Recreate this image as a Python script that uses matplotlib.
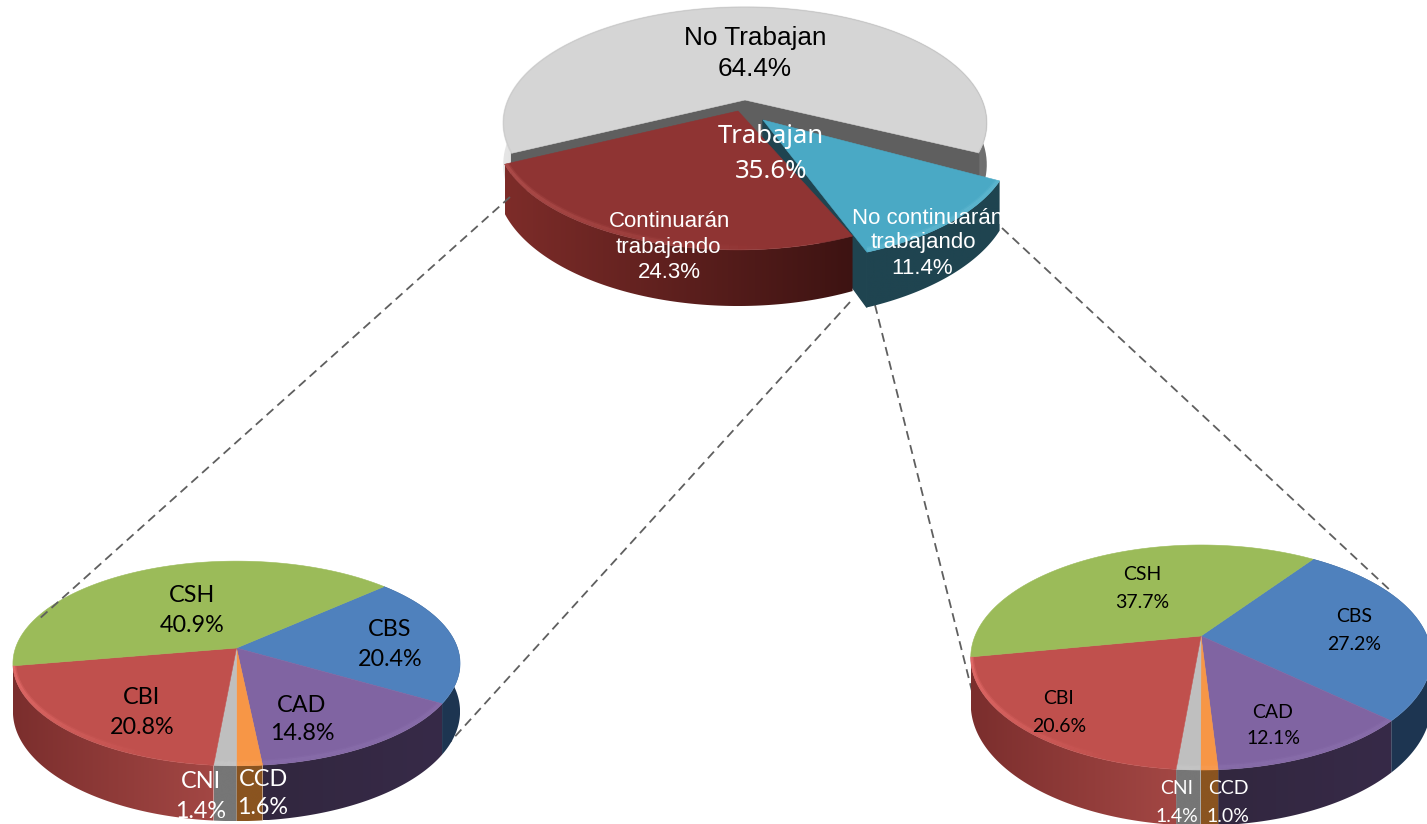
#!/usr/bin/python3
import numpy as np
import matplotlib
matplotlib.use("Agg")
import matplotlib.pyplot as plt
from matplotlib.colors import to_rgb
from matplotlib.patches import Polygon

# main pie, clockwise from the right edge of the grey slice
main_names = ["No Trabajan", "No continuarán\ntrabajando", "Continuarán\ntrabajando"]
main_values = [64.4, 11.4, 24.3]
main_total_label = "Trabajan"
main_total_value = 35.6

# small pies, clockwise from the CSH/CBS border
small_names = ["CBS", "CAD", "CCD", "CNI", "CBI", "CSH"]
left_values = [20.4, 14.8, 1.6, 1.4, 20.8, 40.9]
right_values = [27.2, 12.1, 1.0, 1.4, 20.6, 37.7]

small_tops = ["#4f81bd", "#8064a2", "#f79646", "#bfbfbf", "#c0504d", "#9bbb59"]
small_sides = [("#1e3652", "#1c3550"), ("#372a48", "#32273f"), ("#8a5420", "#8a5420"),
               ("#767676", "#767676"), ("#a34744", "#7b2e2d"), None]
small_lips = [None, "#9a80bd", "#ffb070", "#d8d8d8", "#ee7472", None]


def rim(t, A, B, k):
    # circle seen in perspective, back of the pie is further away
    u, v = np.cos(t), np.sin(t)
    w = 1 + k * v
    return A * u / w, -B * v / w, w


def draw_side(ax, cx, cy, a0, a1, A, B, k, D, c0, c1, z):
    t = np.radians(np.linspace(a0, a1, 120))
    x, y, w = rim(t, A, B, k)
    x, y = x + cx, y + cy
    d = D / w
    outline = np.c_[np.r_[x, x[::-1]], np.r_[y, (y + d)[::-1]]]
    patch = Polygon(outline, closed=True, fc="none", ec="none", transform=ax.transData)
    ax.add_patch(patch)
    c0, c1 = np.array(to_rgb(c0)), np.array(to_rgb(c1))
    f = np.linspace(0, 1, 256)[:, None]
    grad = (c0 * (1 - f) + c1 * f)[None, :, :]
    im = ax.imshow(grad, extent=(x.min(), x.max(), (y + d).max(), y.min()), aspect="auto",
                   interpolation="bilinear", zorder=z)
    im.set_clip_path(patch)


def draw_top(ax, cx, cy, a0, a1, A, B, k, color, z):
    t = np.radians(np.linspace(a0, a1, 120))
    x, y, _ = rim(t, A, B, k)
    return ax.fill(np.r_[cx, x + cx], np.r_[cy, y + cy], color=color, lw=0.4, zorder=z)[0]


def draw_lip(ax, cx, cy, a0, a1, A, B, k, color, z, clip, strength=0.8, fade=True):
    # soft light band just inside the front rim
    t = np.radians(np.linspace(a0, a1, 50))
    x, y, _ = rim(t, A, B, k)
    x, y = x + cx, y + cy - 2.5
    for i in range(len(t) - 1):
        alpha = strength * max(1 - 1.25 * i / len(t), 0) if fade else strength
        for lw, a in [(4.5, 0.35), (2.5, 0.65)]:
            ln = ax.plot(x[i:i + 2], y[i:i + 2], color=color, lw=lw, alpha=alpha * a,
                         solid_capstyle="butt", zorder=z)[0]
            ln.set_clip_path(clip)


def draw_small_pie(ax, cx, cy, A, B, k, D, values, start):
    edges = start - np.r_[0, np.cumsum(values)] / np.sum(values) * 360
    for i in range(len(values)):
        if small_sides[i]:
            draw_side(ax, cx, cy, edges[i], edges[i + 1], A, B, k, D, small_sides[i][1], small_sides[i][0], 5)
    tops = [draw_top(ax, cx, cy, edges[i], edges[i + 1], A, B, k, small_tops[i], 6) for i in range(len(values))]
    for i in range(len(values)):
        if small_lips[i]:
            is_cbi = small_names[i] == "CBI"
            draw_lip(ax, cx, cy, edges[i + 1], edges[i], A, B, k, small_lips[i], 7, tops[i],
                     strength=0.9 if is_cbi else 0.3, fade=is_cbi)


def label(ax, x, y, txt, color="black", size=16, font="Lato"):
    ax.text(x, y, txt, color=color, fontsize=size, family=font, ha="center", va="center", zorder=10)


fig = plt.figure(figsize=(14.27, 8.24), dpi=100)
ax = fig.add_axes([0, 0, 1, 1])
ax.set_xlim(0, 1427)
ax.set_ylim(824, 0)
ax.autoscale(False)
ax.axis("off")

# connector lines
for x0, y0, x1, y1, z in [(510, 197, 38, 620, 9), (850, 302, 450, 742, 2),
                          (875, 305, 975, 703, 2), (1002, 228, 1392, 592, 2)]:
    ax.plot([x0, x1], [y0, y1], color="#5f5f5f", lw=1.3, ls=(0, (5, 3)), zorder=z)

# main pie
A, B, k, D = 237, 111.4, 0.198, 45
fr = np.array(main_values) / np.sum(main_values) * 360
e0 = 205.9
e1 = e0 - fr[0]
e2 = e1 - fr[1]
e3 = e2 - fr[2]

# grey slice
gx, gy = 745, 100
draw_side(ax, gx, gy, e1, e0, A, B, k, 40, "#e6e6e6", "#6f6f6f", 3)
for a in (e0, e1):
    x, y, w = rim(np.radians(a), A, B, k)
    ax.fill([gx, gx + x, gx + x, gx], [gy, gy + y, gy + y + 40, gy + 40], color="#5f5f5f", zorder=3.5)
draw_top(ax, gx, gy, e1, e0, A, B, k, "#d5d5d5", 4)
t_back = np.radians(np.linspace(e1, e0, 150))
x_back, y_back, _ = rim(t_back, A, B, k)
ax.plot(x_back + gx, y_back + gy, color="#b8b8b8", lw=1.2, alpha=0.3, zorder=4.2)

# blue slice, pulled out
bx, by = 763, 120
blue_A, blue_B = A * 1.03, B * 1.03
b_hi, b_lo = e1 - 3, e2 - 3
x, y, w = rim(np.radians(b_lo), blue_A, blue_B, k)
ax.fill([bx, bx + x, bx + x, bx], [by, by + y, by + y + D / w, by + D], color="#1f4450", zorder=5)
draw_side(ax, bx, by, b_lo, b_hi, blue_A, blue_B, k, D, "#1f4450", "#1f4450", 5)
blue_top = draw_top(ax, bx, by, b_lo, b_hi, blue_A, blue_B, k, "#4aa9c5", 6)
draw_lip(ax, bx, by, b_lo, b_hi, blue_A, blue_B, k, "#6fc3da", 6.5, blue_top, strength=0.5, fade=False)

# red slice
rx, ry = 738, 111
draw_side(ax, rx, ry, e3, e2, A, B, k, D, "#7d2c29", "#3d1312", 7)
red_top = draw_top(ax, rx, ry, e3, e2, A, B, k, "#8f3433", 8)
draw_lip(ax, rx, ry, e3, e2, A, B, k, "#bb5754", 8.5, red_top)

# small pies
draw_small_pie(ax, 236.5, 648, 221, 100, 0.151, 47, left_values, 42.6)
draw_small_pie(ax, 1201, 636, 226, 108.4, 0.191, 45, right_values, 55)

# main pie labels
arial = "Liberation Sans"
label(ax, 755, 38, main_names[0], size=18.8, font=arial)
label(ax, 755, 69, f"{main_values[0]}%", size=18.8, font=arial)
label(ax, 771, 136, main_total_label, "white", 18.5, "Noto Sans")
label(ax, 771, 171, f"{main_total_value}%", "white", 18.5, "Noto Sans")
red_name = main_names[2].split("\n")
blue_name = main_names[1].split("\n")
label(ax, 670, 221, red_name[0], "white", 16, arial)
label(ax, 668, 247, red_name[1], "white", 16, arial)
label(ax, 669, 273, f"{main_values[2]}%", "white", 16, arial)
label(ax, 928, 218, blue_name[0], "white", 16, arial)
label(ax, 923, 242, blue_name[1], "white", 16, arial)
label(ax, 922, 268, f"{main_values[1]}%", "white", 16, arial)

# small pie labels
left_pos = [(390, 629, 659), (302, 705, 733), (263, 779, 808), (201, 782, 812), (142, 698, 728), (192, 596, 625)]
right_pos = [(1354, 617, 644), (1273, 712, 739), (1228, 789, 817), (1177, 788, 816), (1059, 698, 726), (1142, 574, 602)]
for i, name in enumerate(small_names):
    c = "white" if name in ("CCD", "CNI") else "black"
    x, y0, y1 = left_pos[i]
    label(ax, x, y0, name, c, 16.8)
    label(ax, x, y1, f"{left_values[i]}%", c, 16.8)
    x, y0, y1 = right_pos[i]
    label(ax, x, y0, name, c, 14)
    label(ax, x, y1, f"{right_values[i]}%", c, 14)

fig.savefig("out.png", dpi=100)
